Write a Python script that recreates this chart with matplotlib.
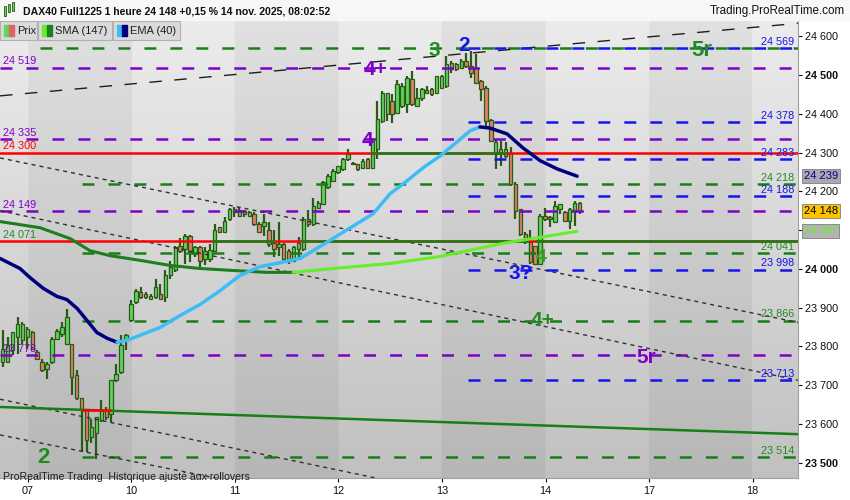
import numpy as np
import matplotlib
matplotlib.use("Agg")
import matplotlib.pyplot as plt
from matplotlib.patches import Rectangle

plt.rcParams["font.family"] = ["Liberation Sans", "DejaVu Sans"]
plt.rcParams["lines.scale_dashes"] = False


# ----------------------
# DATA (hourly candles, DAX40 Full1225)
# ----------------------

opens = [23760, 23760, 23790, 23824, 23816, 23824, 23837, 23786, 23760, 23743,
         23760, 23820, 23833, 23807, 23807, 23726, 23666, 23636, 23567, 23576,
         23610, 23636, 23627, 23713, 23734, 23820, 23867, 23914, 23940, 23936,
         23923, 23927, 23936, 23927, 23983, 23996, 24060, 24051, 24086, 24038,
         24056, 24026, 24026, 24047, 24107, 24094, 24128, 24154, 24137, 24150,
         24137, 24141, 24117, 24111, 24099, 24068, 24056, 24064, 24047, 24021,
         24051, 24051, 24128, 24116, 24158, 24167, 24210, 24227, 24249, 24257,
         24283, 24274, 24270, 24261, 24283, 24261, 24308, 24381, 24398, 24433,
         24403, 24420, 24424, 24489, 24420, 24441, 24454, 24463, 24454, 24467,
         24471, 24514, 24527, 24518, 24536, 24523, 24518, 24484, 24467, 24383,
         24296, 24300, 24291, 24300, 24218, 24154, 24090, 24069, 24060, 24013,
         24137, 24129, 24120, 24154, 24146, 24124, 24150, 24171]

highs = [23843, 23824, 23837, 23876, 23863, 23850, 23841, 23790, 23769, 23760,
         23824, 23846, 23863, 23897, 23807, 23739, 23666, 23640, 23614, 23619,
         23661, 23644, 23713, 23756, 23829, 23833, 23919, 23949, 23953, 23940,
         23936, 23974, 23961, 23996, 24021, 24060, 24080, 24090, 24088, 24060,
         24060, 24056, 24064, 24116, 24107, 24133, 24158, 24160, 24160, 24152,
         24150, 24146, 24120, 24141, 24120, 24099, 24120, 24068, 24051, 24060,
         24081, 24133, 24152, 24184, 24176, 24227, 24244, 24257, 24266, 24287,
         24308, 24276, 24270, 24283, 24287, 24338, 24433, 24458, 24454, 24450,
         24488, 24480, 24497, 24510, 24467, 24467, 24471, 24467, 24497, 24501,
         24548, 24536, 24531, 24540, 24557, 24561, 24553, 24488, 24471, 24386,
         24334, 24330, 24326, 24313, 24223, 24154, 24094, 24099, 24060, 24141,
         24158, 24137, 24176, 24167, 24150, 24158, 24176, 24173]

lows = [23747, 23757, 23777, 23781, 23807, 23794, 23790, 23764, 23734, 23717,
        23756, 23816, 23824, 23807, 23674, 23662, 23529, 23529, 23550, 23511,
        23606, 23610, 23606, 23709, 23730, 23790, 23863, 23910, 23923, 23923,
        23919, 23923, 23923, 23914, 23974, 23991, 24040, 24013, 24017, 24030,
        24004, 24009, 24017, 24047, 24092, 24092, 24124, 24133, 24135, 24133,
        24133, 24111, 24094, 24086, 24056, 24030, 24034, 24017, 24013, 24017,
        24030, 24047, 24107, 24111, 24154, 24167, 24206, 24223, 24244, 24253,
        24278, 24268, 24253, 24257, 24260, 24257, 24283, 24377, 24381, 24377,
        24398, 24416, 24403, 24420, 24420, 24433, 24450, 24446, 24450, 24463,
        24467, 24506, 24510, 24514, 24518, 24493, 24476, 24433, 24368, 24326,
        24257, 24266, 24287, 24214, 24129, 24086, 24064, 24013, 24013, 24009,
        24124, 24107, 24120, 24141, 24124, 24103, 24111, 24141]

closes = [23794, 23803, 23837, 23859, 23859, 23846, 23794, 23769, 23739, 23756,
          23820, 23841, 23850, 23876, 23721, 23666, 23636, 23559, 23593, 23619,
          23636, 23619, 23713, 23730, 23803, 23829, 23910, 23944, 23927, 23927,
          23931, 23953, 23923, 23983, 24004, 24056, 24047, 24086, 24043, 24056,
          24021, 24047, 24049, 24099, 24094, 24124, 24154, 24146, 24152, 24141,
          24146, 24116, 24094, 24120, 24064, 24051, 24064, 24026, 24021, 24056,
          24068, 24128, 24116, 24163, 24171, 24223, 24240, 24253, 24266, 24283,
          24296, 24270, 24257, 24278, 24261, 24330, 24386, 24454, 24454, 24398,
          24476, 24471, 24493, 24424, 24441, 24463, 24460, 24450, 24497, 24497,
          24527, 24531, 24514, 24536, 24523, 24506, 24480, 24463, 24381, 24330,
          24326, 24308, 24308, 24218, 24150, 24090, 24073, 24017, 24013, 24137,
          24129, 24133, 24163, 24167, 24124, 24154, 24171, 24148]

day_labels = ["07", "10", "11", "12", "13", "14", "17", "18"]
first_day_slot = 5.1
slots_per_day = 21

# SMA (147) and EMA (40), read at a few candle slots
sma_x = [-0.55, 7.6, 13.7, 17.7, 21.8, 27.9, 33.9, 40.0, 46.7, 53.6, 58.9,
         67.0, 78.6, 88.7, 95.4, 102.3, 108.9, 116.5]
sma_values = [24122, 24106, 24078, 24047, 24034, 24022, 24009, 24001, 23996,
              23991, 23991, 24001, 24014, 24032, 24050, 24068, 24081, 24097]

ema_x = [-0.55, 3.5, 5.5, 8.2, 11.0, 13.0, 15.1, 17.1, 19.1, 21.2, 23.2, 25.2,
         27.9, 31.9, 36.0, 40.0, 44.1, 48.1, 52.2, 56.3, 60.3, 64.4, 70.5,
         75.1, 78.6, 82.0, 85.3, 88.7, 92.4, 94.8, 96.8, 98.8, 102.3, 105.5,
         109.0, 112.4, 116.5]
ema_values = [24027, 24001, 23978, 23950, 23929, 23921, 23898, 23867, 23836,
              23821, 23811, 23816, 23829, 23849, 23880, 23908, 23944, 23983,
              24006, 24016, 24027, 24058, 24106, 24142, 24194, 24227, 24261,
              24291, 24330, 24356, 24366, 24363, 24348, 24312, 24279, 24258,
              24239]

# horizontal levels
purple_levels = [24519, 24335, 24149, 23778]
blue_levels = [24569, 24378, 24283, 24188, 23998, 23713]
green_levels = [24569, 24218, 24041, 23866, 23514]
green_starts = [7.6, 16.1, 16.1, 16.1, 16.1]
red_levels = [24300, 24071]

# green "touched" pieces drawn over the red levels: (level, from slot, to slot)
green_pieces = [(24300, 75.0, 101.9), (24071, 42.7, 54.8),
                (24071, 60.7, 106.4), (24071, 108.4, 161.3)]

# trend lines: (slot, price) -> (slot, price)
channel_lines = [((-0.55, 24286), (161.3, 23862)),
                 ((-0.55, 24150), (161.3, 23713)),
                 ((-0.55, 23664), (161.3, 23233)),
                 ((-0.55, 23572), (161.3, 23161))]
upper_line = ((-0.55, 24446), (161.3, 24633))
long_green_line = ((-0.55, 23644), (161.3, 23574))

last_close = 24148

# ----------------------
# COLOURS
# ----------------------

WICK = "#2b5a17"
UP = "#5cd65c"
DOWN = "#e58068"
PURPLE = "#7f00c8"
BLUE = "#1414f0"
GREEN = "#168016"
GREEN_TXT = "#238a23"
RED = "#ff0000"
SMA_DOWN = "#1e7d1e"
SMA_UP = "#66ee2a"
EMA_DOWN = "#00007f"
EMA_UP = "#3dbdf7"


def fmt(v):
    return f"{v:,.0f}".replace(",", " ")


def plot_by_slope(ax, xs, ys, c_up, c_down, lw):
    xs = np.asarray(xs)
    ys = np.asarray(ys)
    rising = np.diff(ys) > 0
    start = 0
    for k in range(1, len(rising) + 1):
        if k == len(rising) or rising[k] != rising[start]:
            ax.plot(xs[start:k + 1], ys[start:k + 1],
                    color=c_up if rising[start] else c_down, lw=lw,
                    solid_capstyle="round", solid_joinstyle="round", zorder=6)
            start = k


# ----------------------
# FIGURE
# ----------------------

fig = plt.figure(figsize=(8.5, 5), dpi=100)
fig.patch.set_facecolor("white")
ax = fig.add_axes([0, 22 / 500, 798 / 850, 457 / 500])

xmin, xmax = -0.55, 161.3
ymin, ymax = 23461, 24639
ax.set_xlim(xmin, xmax)
ax.set_ylim(ymin, ymax)

# background: vertical gradient with alternating day bands
gx = np.linspace(xmin, xmax, 900)
gy = np.linspace(0, 1, 200)[:, None]
band = np.floor((gx - first_day_slot) / slots_per_day) % 2 == 0
top = np.where(band, 0.88, 0.925)
bottom = np.where(band, 0.715, 0.755)
shade = bottom[None, :] + (top - bottom)[None, :] * gy
ax.imshow(np.dstack([shade] * 3), extent=(xmin, xmax, ymin, ymax),
          origin="lower", aspect="auto", zorder=0, interpolation="bilinear")

# candles
idx = np.arange(len(opens))
o = np.array(opens)
c = np.array(closes)
up = c >= o
body_bottom = np.minimum(o, c)
body_h = np.maximum(np.abs(c - o), 3)
ax.vlines(idx, lows, highs, color=WICK, lw=1.6, zorder=3)
ax.bar(idx[up], body_h[up], bottom=body_bottom[up], width=0.7, color=UP,
       edgecolor=WICK, linewidth=0.9, zorder=3.5)
ax.bar(idx[~up], body_h[~up], bottom=body_bottom[~up], width=0.7, color=DOWN,
       edgecolor=WICK, linewidth=0.9, zorder=3.5)

# dashed levels
dash = (0, (8.6, 10.1))
for lv in purple_levels:
    ax.plot([xmin, xmax], [lv, lv], color=PURPLE, lw=1.8, ls=dash, zorder=4)
for lv, x0 in zip(green_levels, green_starts):
    ax.plot([x0, xmax], [lv, lv], color=GREEN, lw=1.8, ls=dash, zorder=4)
for lv in blue_levels:
    ax.plot([94.4, xmax], [lv, lv], color=BLUE, lw=1.8, ls=dash, zorder=4.2)

# solid levels
for lv in red_levels:
    ax.plot([xmin, xmax], [lv, lv], color=RED, lw=1.8, zorder=4.5)
for lv, a, b in green_pieces:
    ax.plot([a, b], [lv, lv], color=GREEN, lw=1.8, zorder=4.6)

# trend lines
for (x0, y0), (x1, y1) in channel_lines:
    ax.plot([x0, x1], [y0, y1], color="#303030", lw=1.0, ls=(0, (2.9, 2.9)),
            zorder=4)
ax.plot([upper_line[0][0], upper_line[1][0]], [upper_line[0][1], upper_line[1][1]],
        color="#1e1e1e", lw=1.0, ls=(0, (9, 9)), zorder=4)
ax.plot([long_green_line[0][0], long_green_line[1][0]],
        [long_green_line[0][1], long_green_line[1][1]],
        color=GREEN, lw=1.8, zorder=4.5)
ax.plot([16.3, 21.8], [23636, 23636], color=RED, lw=1.8, zorder=4.6)

# moving averages
plot_by_slope(ax, sma_x, sma_values, SMA_UP, SMA_DOWN, 2.2)
plot_by_slope(ax, ema_x, ema_values, EMA_UP, EMA_DOWN, 2.5)

# level labels on the left
left_labels = [(24519, PURPLE), (24335, PURPLE), (24300, RED),
               (24149, PURPLE), (24071, GREEN_TXT), (23778, PURPLE)]
for lv, col in left_labels:
    ax.annotate(fmt(lv), xy=(0, lv), xycoords=ax.get_yaxis_transform(),
                xytext=(2, 1), textcoords="offset points", ha="left",
                va="bottom", fontsize=7.8, color=col, zorder=8)

# level labels on the right
for lv in blue_levels:
    ax.annotate(fmt(lv), xy=(1, lv), xycoords=ax.get_yaxis_transform(),
                xytext=(-2.5, 1), textcoords="offset points", ha="right",
                va="bottom", fontsize=7.8, color=BLUE, zorder=8)
for lv in green_levels[1:]:
    ax.annotate(fmt(lv), xy=(1, lv), xycoords=ax.get_yaxis_transform(),
                xytext=(-2.5, 1), textcoords="offset points", ha="right",
                va="bottom", fontsize=7.8, color=GREEN_TXT, zorder=8)

# wave marks
marks = [("2", 8.2, 23519, GREEN_TXT, 16), ("3", 87.5, 24567, GREEN_TXT, 15),
         ("2", 93.6, 24582, BLUE, 15), ("4+", 75.7, 24520, PURPLE, 15),
         ("4", 73.9, 24337, PURPLE, 15), ("5r", 141.8, 24569, GREEN_TXT, 16),
         ("4+", 109.4, 23872, GREEN_TXT, 15), ("5r", 130.5, 23777, PURPLE, 15),
         ("3?", 105.0, 23994, BLUE, 15), ("4", 109.3, 24034, "#3d9a2a", 14)]
for txt, mx, my, col, size in marks:
    ax.text(mx, my, txt, color=col, fontsize=size, fontweight="bold",
            ha="center", va="center_baseline", zorder=9)

ax.text(0.004, -0.005, "ProRealTime Trading  Historique ajusté aux rollovers",
        transform=ax.transAxes, fontsize=7.6, color="#1e1e1e", ha="left",
        va="baseline", zorder=9)

# axes and ticks
ax.yaxis.tick_right()
yt = np.arange(23500, 24601, 100)
ax.set_yticks(yt)
ax.set_yticklabels([fmt(v) for v in yt])
for lab, v in zip(ax.get_yticklabels(), yt):
    if v % 500 == 0:
        lab.set_fontweight("bold")
ax.set_xticks([first_day_slot + slots_per_day * k for k in range(len(day_labels))])
ax.set_xticklabels(day_labels)
ax.tick_params(axis="y", length=3, pad=2, labelsize=7.8, colors="#101010")
ax.tick_params(axis="x", length=3, pad=3, labelsize=7.8, colors="#101010")
for side in ["top", "left"]:
    ax.spines[side].set_visible(False)
for side in ["right", "bottom"]:
    ax.spines[side].set_color("#a0a0a0")

# value boxes on the price axis
boxes = [(ema_values[-1], "#a9a9b4", "#00007f"),
         (last_close, "#ffc400", "#000000"),
         (sma_values[-1], "#b4b4b4", "#66ee2a")]
for v, fc, tc in boxes:
    ax.annotate(fmt(v), xy=(1, v), xycoords=ax.get_yaxis_transform(),
                xytext=(4, 0), textcoords="offset points", ha="left",
                va="center", fontsize=8, color=tc, annotation_clip=False,
                bbox=dict(boxstyle="square,pad=0.18", fc=fc, ec="#8a8a8a",
                          lw=0.7), zorder=10)

# ----------------------
# HEADER: title row and legend row
# ----------------------


def fig_rect(x0, y0, w, h, **kw):
    fig.patches.append(Rectangle((x0 / 850, 1 - (y0 + h) / 500), w / 850, h / 500,
                                 transform=fig.transFigure, **kw))


fig_rect(0, 0, 850, 20, color="#f7f7f7", zorder=1)
fig_rect(4, 6, 2, 10, color=UP, ec=WICK, lw=0.6, zorder=2)
fig_rect(8, 4, 2, 8, color=UP, ec=WICK, lw=0.6, zorder=2)
fig_rect(12, 2, 2, 9, color=UP, ec=WICK, lw=0.6, zorder=2)
fig.text(23 / 850, 1 - 11 / 500,
         "DAX40 Full1225 1 heure 24 148 +0,15 % 14 nov. 2025, 08:02:52",
         fontsize=7.6, fontweight="bold", ha="left", va="center", color="#101010")
fig.text(845 / 850, 1 - 11 / 500, "Trading.ProRealTime.com", fontsize=8.4,
         ha="right", va="center", color="#101010")

legend_items = [("Prix", 0, 37, UP, "#e06464"),
                ("SMA (147)", 38, 74, SMA_UP, SMA_DOWN),
                ("EMA (40)", 113, 67, EMA_UP, EMA_DOWN)]
for name, lx, lw_, c1, c2 in legend_items:
    fig_rect(lx, 21, lw_, 19, fc="#dadada", ec="#b0b0b0", lw=0.8, zorder=2)
    fig_rect(lx + 4, 25, 5, 11, color=c1, zorder=3)
    fig_rect(lx + 9, 25, 5, 11, color=c2, zorder=3)
    fig.text((lx + 17) / 850, 1 - 31 / 500, name, fontsize=8, ha="left",
             va="center", color="#202020")

fig.savefig("out.png", dpi=100)
